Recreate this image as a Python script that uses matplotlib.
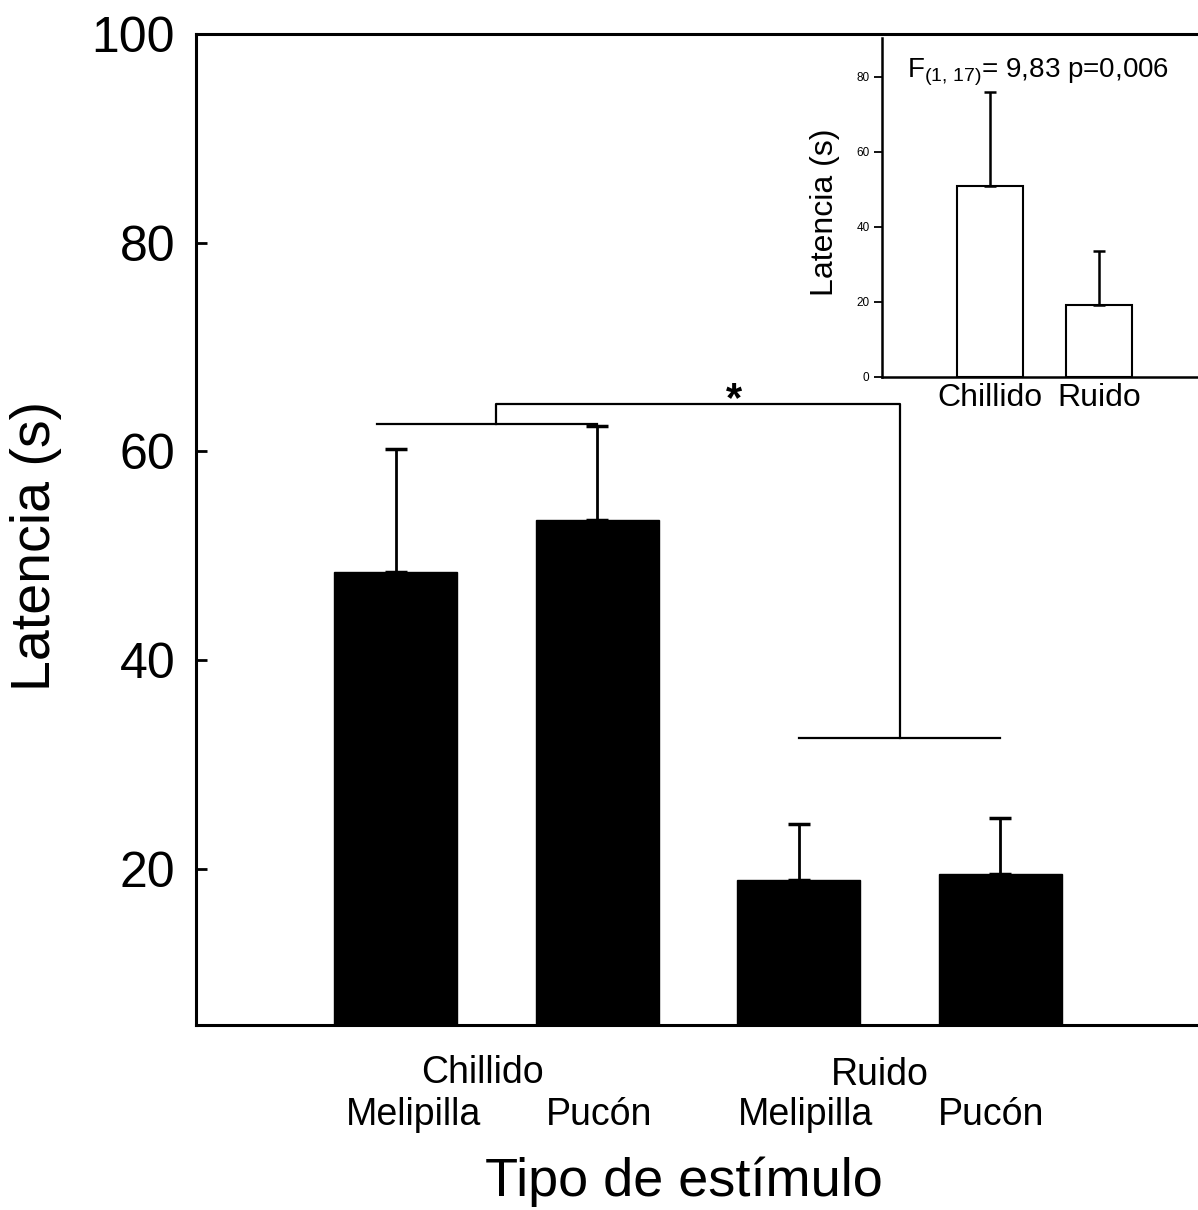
import matplotlib
matplotlib.use("Agg")
import matplotlib.pyplot as plt
from matplotlib.transforms import ScaledTranslation

plt.rcParams['font.family'] = ['Liberation Sans', 'DejaVu Sans']
plt.rcParams['mathtext.fontset'] = 'custom'
plt.rcParams['mathtext.rm'] = 'Liberation Sans'
plt.rcParams['mathtext.it'] = 'Liberation Sans'
plt.rcParams['mathtext.bf'] = 'Liberation Sans:bold'

# ---- data ----
groups = ["Chillido", "Ruido"]
sites = ["Melipilla", "Pucón", "Melipilla", "Pucón"]
means = [48.4, 53.4, 18.9, 19.5]
errs = [11.8, 9.0, 5.4, 5.3]

inset_cats = ["Chillido", "Ruido"]
inset_means = [50.9, 19.1]
inset_errs = [24.9, 14.4]

main_yticks = [20, 40, 60, 80, 100]
inset_yticks = [0, 20, 40, 60, 80]

# significance bracket levels
br_left = 62.6
br_right = 32.5
br_top = 64.5
stat_text = r"F$_{\mathrm{(1,\,17)}}$= 9,83 p=0,006"

fig = plt.figure(figsize=(11.98, 12.10), dpi=100)
ax = fig.add_axes([196/1198, 1 - 1025/1210, 1 - 196/1198, (1025 - 34)/1210])

x = list(range(len(means)))
ax.bar(x, means, width=0.61, color='black', edgecolor='black')
ax.errorbar(x, means, yerr=[[0]*len(errs), errs], fmt='none', ecolor='black',
            elinewidth=2, capsize=8, capthick=2.5)

ax.set_xlim(-0.99, 3.98)
ax.set_ylim(5, 100)
ax.set_yticks(main_yticks)
ax.tick_params(axis='y', direction='in', length=8, width=2, labelsize=36, pad=15)
ax.tick_params(axis='x', length=0)
ax.set_xticks(x)
ax.set_xticklabels(sites, fontsize=27)
ax.tick_params(axis='x', pad=52)
# small horizontal nudges of the site labels (pixels at 100 dpi)
label_shift_px = [18, 2, 7, -9]
for lab, dx in zip(ax.get_xticklabels(), label_shift_px):
    lab.set_transform(lab.get_transform() + ScaledTranslation(dx / 100, 0, fig.dpi_scale_trans))
for s in ['left', 'bottom', 'top']:
    ax.spines[s].set_linewidth(2.2)
ax.spines['right'].set_visible(False)

ax.set_ylabel("Latencia (s)", fontsize=40)
ax.yaxis.set_label_coords(-0.134, 0.483)

trans = ax.get_xaxis_transform()
ax.text(0.5 - 0.07, -0.048, groups[0], transform=trans, ha='center', va='center', fontsize=27)
ax.text(2.5 - 0.1, -0.050, groups[1], transform=trans, ha='center', va='center', fontsize=27)
ax.text(1.43, -0.158, "Tipo de estímulo", transform=trans, ha='center', va='center', fontsize=39)

# bracket
lw = 1.6
ax.plot([-0.09, 1.0], [br_left, br_left], color='black', lw=lw)
ax.plot([2.0, 3.0], [br_right, br_right], color='black', lw=lw)
ax.plot([0.5, 0.5, 2.5, 2.5], [br_left, br_top, br_top, br_right], color='black', lw=lw)
ax.text(1.68, br_top - 1.5, "*", ha='center', va='bottom', fontsize=30, fontweight='bold')

# inset
ins = fig.add_axes([882/1198, 1 - 377/1210, 1 - 882/1198, (377 - 38)/1210])
xi = list(range(len(inset_means)))
ins.bar(xi, inset_means, width=0.6, color='white', edgecolor='black', linewidth=1.5)
ins.errorbar(xi, inset_means, yerr=[[0]*len(inset_errs), inset_errs], fmt='none',
             ecolor='black', elinewidth=1.8, capsize=4.5, capthick=1.8)
ins.set_xlim(-0.99, 1.91)
ins.set_ylim(0, 90.3)
ins.set_yticks(inset_yticks)
ins.tick_params(axis='y', direction='out', length=6, width=1.3, labelsize=8.5, pad=3)
ins.set_xticks(xi)
ins.set_xticklabels(inset_cats, fontsize=23)
ins.tick_params(axis='x', length=0, pad=4)
ins.spines['right'].set_visible(False)
ins.spines['top'].set_visible(False)
for s in ['left', 'bottom']:
    ins.spines[s].set_linewidth(1.8)
ins.set_ylabel("Latencia (s)", fontsize=23)
ins.yaxis.set_label_coords(-0.133, 0.487)
ins.text(0.08, 0.90, stat_text, transform=ins.transAxes, ha='left', va='center', fontsize=20)

fig.savefig("out.png", dpi=100)
